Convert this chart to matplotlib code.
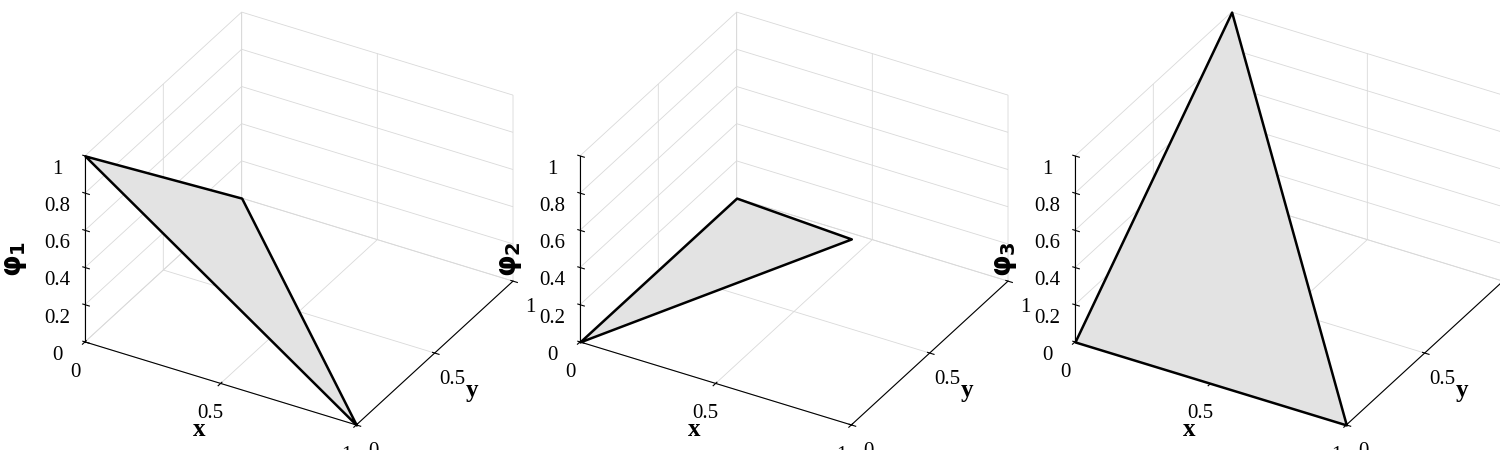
import matplotlib
matplotlib.use("Agg")
import matplotlib.pyplot as plt
import numpy as np
from mpl_toolkits.mplot3d.art3d import Poly3DCollection

plt.rcParams['font.family'] = ['Liberation Serif', 'DejaVu Serif']

vx = [0, 1, 0]
vy = [0, 0, 1]
phis = [[1, 0, 0], [0, 1, 0], [0, 0, 1]]
labels = [r'$\mathbf{\varphi_1}$', r'$\mathbf{\varphi_2}$', r'$\mathbf{\varphi_3}$']
xticks = [0, 0.5, 1]
yticks = [0, 0.5, 1]
zticks = [0, 0.2, 0.4, 0.6, 0.8, 1]

fig = plt.figure(figsize=(15, 4.5), dpi=100)
lefts = [0.035, 0.365, 0.695]
for i in range(3):
    ax = fig.add_axes([lefts[i], -0.06, 0.32, 1.12], projection='3d', proj_type='ortho')
    ax.view_init(elev=32, azim=-60)
    z = phis[i]
    verts = [list(zip(vx, vy, z))]
    pc = Poly3DCollection(verts, facecolor='#e3e3e3', edgecolor='black', linewidth=1.8)
    ax.add_collection3d(pc)
    ax.set_xlim(0, 1); ax.set_ylim(0, 1); ax.set_zlim(0, 1)
    ax.set_xticks(xticks); ax.set_yticks(yticks); ax.set_zticks(zticks)
    ax.set_xticklabels(['0', '0.5', '1'], fontsize=15)
    ax.set_yticklabels(['0', '0.5', '1'], fontsize=15)
    ax.set_zticklabels(['0', '0.2', '0.4', '0.6', '0.8', '1'], fontsize=15)
    ax.zaxis._axinfo['juggled'] = (1, 2, 0)
    ax.set_xlabel('x', fontsize=18, fontweight='bold', labelpad=4)
    ax.set_ylabel('y', fontsize=18, fontweight='bold', labelpad=4)
    ax.set_zlabel(labels[i], fontsize=20, fontweight='bold', labelpad=8)
    ax.set_box_aspect((1, 1, 0.7), zoom=1.0)
    for axis in (ax.xaxis, ax.yaxis, ax.zaxis):
        axis.set_pane_color((1, 1, 1, 0))
        axis._axinfo['grid']['color'] = (0.85, 0.85, 0.85, 1)
        axis._axinfo['grid']['linewidth'] = 0.6
        axis.line.set_color('black')

fig.savefig('out.png', dpi=100)
